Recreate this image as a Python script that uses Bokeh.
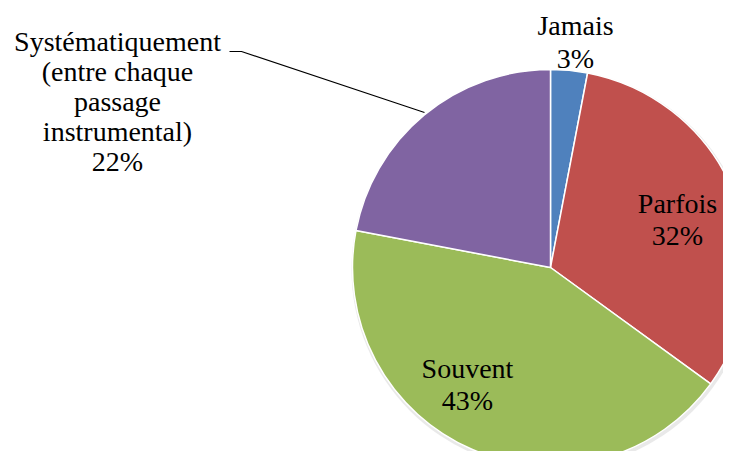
import math
from bokeh.plotting import figure
from bokeh.models import Range1d, ColumnDataSource
from bokeh.core.properties import value
from bokeh.embed import file_html
from bokeh.resources import INLINE

# ---- data ----
categories = ["Jamais", "Parfois", "Souvent",
              "Systématiquement\n(entre chaque\npassage\ninstrumental)"]
percents = [3, 32, 43, 22]
colors = ["#4F81BD", "#C0504D", "#9BBB59", "#8064A2"]

# ---- layout (image pixel coordinates; y measured from top) ----
W, H = 739, 467
cx, cy, R = 550, 267, 198
# label anchors: centre x, baseline of first line, line spacing
label_pos = [(575, 25, 33), (677, 203, 32), (467, 368, 32), (117, 41, 30)]
leader = ([229, 241, 424], [51, 51, 112])


def Y(y):
    return H - y


p = figure(width=W - 16, height=H - 16, output_backend="svg",
           toolbar_location=None, x_axis_type=None, y_axis_type=None,
           x_range=Range1d(0, W - 16), y_range=Range1d(16, H),
           min_border=0)
p.outline_line_color = None
p.grid.visible = False
p.background_fill_color = "white"

# faint shadow
p.circle(x=[cx + 1], y=[Y(cy) - 2], radius=R + 2, fill_color="#bfbfbf",
         fill_alpha=0.35, line_color=None)

total = sum(percents)
starts, ends = [], []
cum = 0.0
for v in percents:
    starts.append(math.pi / 2 - 2 * math.pi * cum / total)
    cum += v
    ends.append(math.pi / 2 - 2 * math.pi * cum / total)

src = ColumnDataSource(dict(x=[cx] * len(percents), y=[Y(cy)] * len(percents),
                            start=starts, end=ends, color=colors))
p.wedge(x="x", y="y", radius=R, start_angle="start", end_angle="end",
        direction="clock", fill_color="color", line_color="white",
        line_width=1.5, source=src)

# leader line
p.line(x=leader[0], y=[Y(v) for v in leader[1]], line_color="black",
       line_width=1.2)

tx, ty, tt = [], [], []
for cat, pct, (lx, ly, sp) in zip(categories, percents, label_pos):
    lines = cat.split("\n") + [f"{pct}%"]
    for i, ln in enumerate(lines):
        tx.append(lx)
        ty.append(Y(ly + i * sp))
        tt.append(ln)

p.text(x=tx, y=ty, text=tt, text_align="center", text_baseline="alphabetic",
       text_font=value("Liberation Serif"), text_font_size="28px",
       text_color="black")

open("out.html", "w").write(file_html(p, INLINE))
